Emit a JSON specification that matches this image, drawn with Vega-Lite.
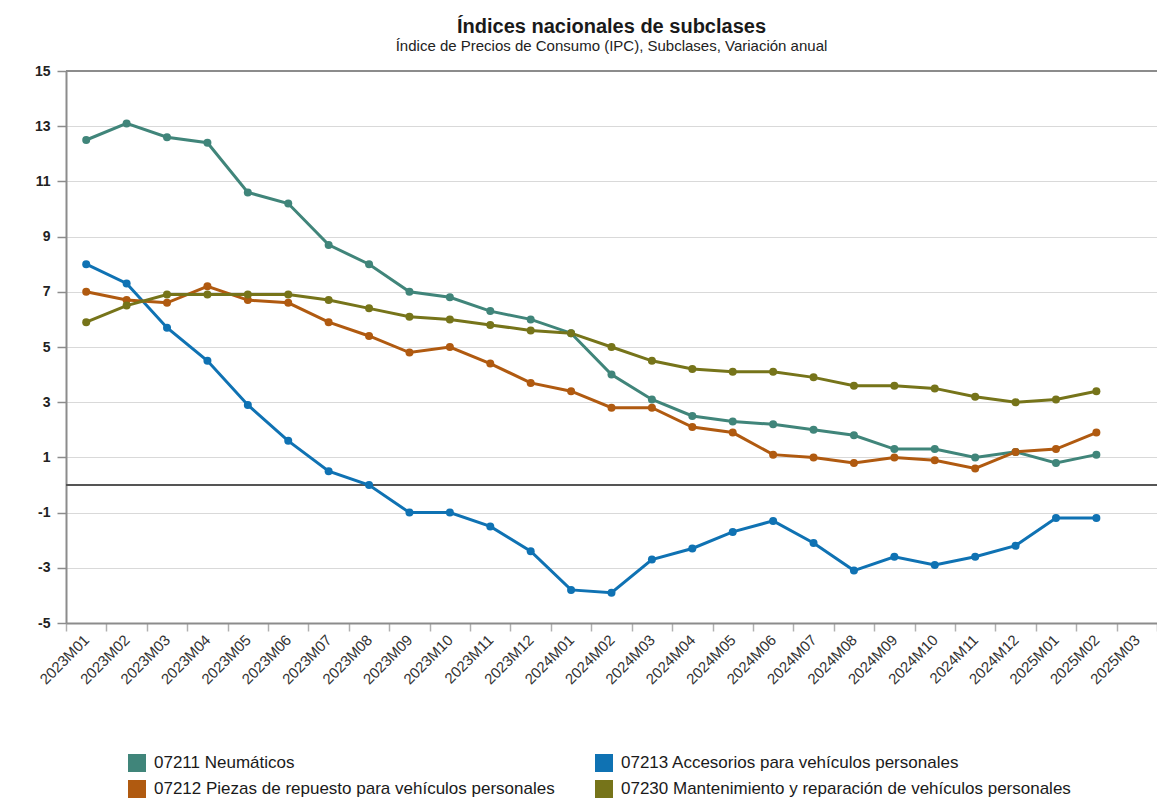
{
  "$schema": "https://vega.github.io/schema/vega-lite/v6.json",
  "autosize": {"type": "none"},
  "padding": {"left": 66, "top": 71, "right": 0, "bottom": 187},
  "width": 1091,
  "height": 552,
  "background": "white",
  "config": {
    "font": "Liberation Sans",
    "view": {"stroke": null}
  },
  "title": {
    "text": "Índices nacionales de subclases",
    "subtitle": "Índice de Precios de Consumo (IPC), Subclases, Variación anual",
    "anchor": "middle",
    "fontSize": 20,
    "fontWeight": "bold",
    "color": "#1a1a1a",
    "subtitleFontSize": 15,
    "subtitleColor": "#222222",
    "subtitlePadding": 2,
    "offset": 10
  },
  "datasets": {
    "d": [
      {"s":"07211 Neumáticos","m":"2023M01","v":12.5},{"s":"07211 Neumáticos","m":"2023M02","v":13.1},{"s":"07211 Neumáticos","m":"2023M03","v":12.6},{"s":"07211 Neumáticos","m":"2023M04","v":12.4},{"s":"07211 Neumáticos","m":"2023M05","v":10.6},{"s":"07211 Neumáticos","m":"2023M06","v":10.2},{"s":"07211 Neumáticos","m":"2023M07","v":8.7},{"s":"07211 Neumáticos","m":"2023M08","v":8.0},{"s":"07211 Neumáticos","m":"2023M09","v":7.0},{"s":"07211 Neumáticos","m":"2023M10","v":6.8},{"s":"07211 Neumáticos","m":"2023M11","v":6.3},{"s":"07211 Neumáticos","m":"2023M12","v":6.0},{"s":"07211 Neumáticos","m":"2024M01","v":5.5},{"s":"07211 Neumáticos","m":"2024M02","v":4.0},{"s":"07211 Neumáticos","m":"2024M03","v":3.1},{"s":"07211 Neumáticos","m":"2024M04","v":2.5},{"s":"07211 Neumáticos","m":"2024M05","v":2.3},{"s":"07211 Neumáticos","m":"2024M06","v":2.2},{"s":"07211 Neumáticos","m":"2024M07","v":2.0},{"s":"07211 Neumáticos","m":"2024M08","v":1.8},{"s":"07211 Neumáticos","m":"2024M09","v":1.3},{"s":"07211 Neumáticos","m":"2024M10","v":1.3},{"s":"07211 Neumáticos","m":"2024M11","v":1.0},{"s":"07211 Neumáticos","m":"2024M12","v":1.2},{"s":"07211 Neumáticos","m":"2025M01","v":0.8},{"s":"07211 Neumáticos","m":"2025M02","v":1.1},
      {"s":"07213 Accesorios para vehículos personales","m":"2023M01","v":8.0},{"s":"07213 Accesorios para vehículos personales","m":"2023M02","v":7.3},{"s":"07213 Accesorios para vehículos personales","m":"2023M03","v":5.7},{"s":"07213 Accesorios para vehículos personales","m":"2023M04","v":4.5},{"s":"07213 Accesorios para vehículos personales","m":"2023M05","v":2.9},{"s":"07213 Accesorios para vehículos personales","m":"2023M06","v":1.6},{"s":"07213 Accesorios para vehículos personales","m":"2023M07","v":0.5},{"s":"07213 Accesorios para vehículos personales","m":"2023M08","v":0.0},{"s":"07213 Accesorios para vehículos personales","m":"2023M09","v":-1.0},{"s":"07213 Accesorios para vehículos personales","m":"2023M10","v":-1.0},{"s":"07213 Accesorios para vehículos personales","m":"2023M11","v":-1.5},{"s":"07213 Accesorios para vehículos personales","m":"2023M12","v":-2.4},{"s":"07213 Accesorios para vehículos personales","m":"2024M01","v":-3.8},{"s":"07213 Accesorios para vehículos personales","m":"2024M02","v":-3.9},{"s":"07213 Accesorios para vehículos personales","m":"2024M03","v":-2.7},{"s":"07213 Accesorios para vehículos personales","m":"2024M04","v":-2.3},{"s":"07213 Accesorios para vehículos personales","m":"2024M05","v":-1.7},{"s":"07213 Accesorios para vehículos personales","m":"2024M06","v":-1.3},{"s":"07213 Accesorios para vehículos personales","m":"2024M07","v":-2.1},{"s":"07213 Accesorios para vehículos personales","m":"2024M08","v":-3.1},{"s":"07213 Accesorios para vehículos personales","m":"2024M09","v":-2.6},{"s":"07213 Accesorios para vehículos personales","m":"2024M10","v":-2.9},{"s":"07213 Accesorios para vehículos personales","m":"2024M11","v":-2.6},{"s":"07213 Accesorios para vehículos personales","m":"2024M12","v":-2.2},{"s":"07213 Accesorios para vehículos personales","m":"2025M01","v":-1.2},{"s":"07213 Accesorios para vehículos personales","m":"2025M02","v":-1.2},
      {"s":"07212 Piezas de repuesto para vehículos personales","m":"2023M01","v":7.0},{"s":"07212 Piezas de repuesto para vehículos personales","m":"2023M02","v":6.7},{"s":"07212 Piezas de repuesto para vehículos personales","m":"2023M03","v":6.6},{"s":"07212 Piezas de repuesto para vehículos personales","m":"2023M04","v":7.2},{"s":"07212 Piezas de repuesto para vehículos personales","m":"2023M05","v":6.7},{"s":"07212 Piezas de repuesto para vehículos personales","m":"2023M06","v":6.6},{"s":"07212 Piezas de repuesto para vehículos personales","m":"2023M07","v":5.9},{"s":"07212 Piezas de repuesto para vehículos personales","m":"2023M08","v":5.4},{"s":"07212 Piezas de repuesto para vehículos personales","m":"2023M09","v":4.8},{"s":"07212 Piezas de repuesto para vehículos personales","m":"2023M10","v":5.0},{"s":"07212 Piezas de repuesto para vehículos personales","m":"2023M11","v":4.4},{"s":"07212 Piezas de repuesto para vehículos personales","m":"2023M12","v":3.7},{"s":"07212 Piezas de repuesto para vehículos personales","m":"2024M01","v":3.4},{"s":"07212 Piezas de repuesto para vehículos personales","m":"2024M02","v":2.8},{"s":"07212 Piezas de repuesto para vehículos personales","m":"2024M03","v":2.8},{"s":"07212 Piezas de repuesto para vehículos personales","m":"2024M04","v":2.1},{"s":"07212 Piezas de repuesto para vehículos personales","m":"2024M05","v":1.9},{"s":"07212 Piezas de repuesto para vehículos personales","m":"2024M06","v":1.1},{"s":"07212 Piezas de repuesto para vehículos personales","m":"2024M07","v":1.0},{"s":"07212 Piezas de repuesto para vehículos personales","m":"2024M08","v":0.8},{"s":"07212 Piezas de repuesto para vehículos personales","m":"2024M09","v":1.0},{"s":"07212 Piezas de repuesto para vehículos personales","m":"2024M10","v":0.9},{"s":"07212 Piezas de repuesto para vehículos personales","m":"2024M11","v":0.6},{"s":"07212 Piezas de repuesto para vehículos personales","m":"2024M12","v":1.2},{"s":"07212 Piezas de repuesto para vehículos personales","m":"2025M01","v":1.3},{"s":"07212 Piezas de repuesto para vehículos personales","m":"2025M02","v":1.9},
      {"s":"07230 Mantenimiento y reparación de vehículos personales","m":"2023M01","v":5.9},{"s":"07230 Mantenimiento y reparación de vehículos personales","m":"2023M02","v":6.5},{"s":"07230 Mantenimiento y reparación de vehículos personales","m":"2023M03","v":6.9},{"s":"07230 Mantenimiento y reparación de vehículos personales","m":"2023M04","v":6.9},{"s":"07230 Mantenimiento y reparación de vehículos personales","m":"2023M05","v":6.9},{"s":"07230 Mantenimiento y reparación de vehículos personales","m":"2023M06","v":6.9},{"s":"07230 Mantenimiento y reparación de vehículos personales","m":"2023M07","v":6.7},{"s":"07230 Mantenimiento y reparación de vehículos personales","m":"2023M08","v":6.4},{"s":"07230 Mantenimiento y reparación de vehículos personales","m":"2023M09","v":6.1},{"s":"07230 Mantenimiento y reparación de vehículos personales","m":"2023M10","v":6.0},{"s":"07230 Mantenimiento y reparación de vehículos personales","m":"2023M11","v":5.8},{"s":"07230 Mantenimiento y reparación de vehículos personales","m":"2023M12","v":5.6},{"s":"07230 Mantenimiento y reparación de vehículos personales","m":"2024M01","v":5.5},{"s":"07230 Mantenimiento y reparación de vehículos personales","m":"2024M02","v":5.0},{"s":"07230 Mantenimiento y reparación de vehículos personales","m":"2024M03","v":4.5},{"s":"07230 Mantenimiento y reparación de vehículos personales","m":"2024M04","v":4.2},{"s":"07230 Mantenimiento y reparación de vehículos personales","m":"2024M05","v":4.1},{"s":"07230 Mantenimiento y reparación de vehículos personales","m":"2024M06","v":4.1},{"s":"07230 Mantenimiento y reparación de vehículos personales","m":"2024M07","v":3.9},{"s":"07230 Mantenimiento y reparación de vehículos personales","m":"2024M08","v":3.6},{"s":"07230 Mantenimiento y reparación de vehículos personales","m":"2024M09","v":3.6},{"s":"07230 Mantenimiento y reparación de vehículos personales","m":"2024M10","v":3.5},{"s":"07230 Mantenimiento y reparación de vehículos personales","m":"2024M11","v":3.2},{"s":"07230 Mantenimiento y reparación de vehículos personales","m":"2024M12","v":3.0},{"s":"07230 Mantenimiento y reparación de vehículos personales","m":"2025M01","v":3.1},{"s":"07230 Mantenimiento y reparación de vehículos personales","m":"2025M02","v":3.4}
    ],
    "refs": [{"y": 15}],
    "zero": [{"y": 0}]
  },
  "layer": [
    {
      "data": {"name": "refs"},
      "mark": {"type": "rule", "color": "#8c8c8c", "strokeWidth": 2},
      "encoding": {"y": {"field": "y", "type": "quantitative", "scale": {"domain": [-5, 15]}}}
    },
    {
      "data": {"name": "zero"},
      "mark": {"type": "rule", "color": "#555555", "strokeWidth": 2},
      "encoding": {"y": {"field": "y", "type": "quantitative"}}
    },
    {
      "data": {"name": "d"},
      "mark": {"type": "line", "strokeWidth": 3, "point": {"filled": true, "size": 64}},
      "encoding": {
        "x": {
          "field": "m", "type": "ordinal", "title": null,
          "scale": {"type": "band", "paddingInner": 0, "paddingOuter": 0,
            "domain": ["2023M01","2023M02","2023M03","2023M04","2023M05","2023M06","2023M07","2023M08","2023M09","2023M10","2023M11","2023M12","2024M01","2024M02","2024M03","2024M04","2024M05","2024M06","2024M07","2024M08","2024M09","2024M10","2024M11","2024M12","2025M01","2025M02","2025M03"]},
          "axis": {
            "tickBand": "extent", "labelAngle": -45, "labelAlign": "right", "labelBaseline": "middle",
            "labelFontSize": 15, "labelColor": "#333333", "labelPadding": 6,
            "domainColor": "#8c8c8c", "domainWidth": 2, "tickColor": "#b0b0b0", "tickSize": 8, "tickWidth": 1.5,
            "grid": false
          }
        },
        "y": {
          "field": "v", "type": "quantitative", "title": null,
          "scale": {"domain": [-5, 15], "nice": false, "zero": false},
          "axis": {
            "values": [-5, -3, -1, 1, 3, 5, 7, 9, 11, 13, 15],
            "labelExpr": "'' + datum.value",
            "labelFontSize": 14, "labelFontWeight": "bold", "labelColor": "#222222", "labelPadding": 7,
            "domainColor": "#8c8c8c", "domainWidth": 2, "tickColor": "#8c8c8c", "tickSize": 9, "tickWidth": 1.5,
            "grid": true, "gridColor": "#d9d9d9", "gridWidth": 1.2
          }
        },
        "color": {
          "field": "s", "type": "nominal",
          "scale": {
            "domain": ["07211 Neumáticos", "07212 Piezas de repuesto para vehículos personales", "07213 Accesorios para vehículos personales", "07230 Mantenimiento y reparación de vehículos personales"],
            "range": ["#40857a", "#b05a10", "#0f72b3", "#76741a"]
          },
          "legend": {
            "title": null, "orient": "none", "legendX": 62, "legendY": 683,
            "columns": 2, "columnPadding": 40, "rowPadding": 8,
            "symbolType": "square", "symbolSize": 324, "symbolStrokeWidth": 0,
            "labelFontSize": 17, "labelColor": "#1a1a1a", "labelOffset": 8, "labelLimit": 700,
            "encode": {"symbols": {"update": {"fill": {"scale": "color", "field": "value"}, "stroke": {"value": "transparent"}, "opacity": {"value": 1}}}}
          }
        }
      }
    }
  ]
}
